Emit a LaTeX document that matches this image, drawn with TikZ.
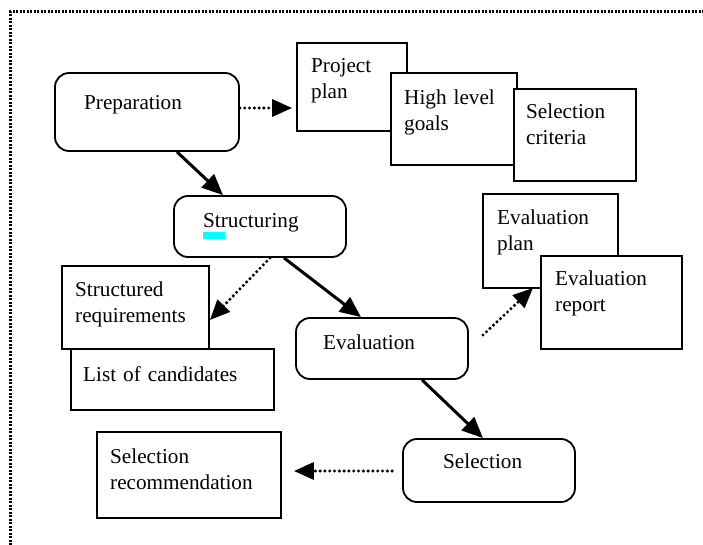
\documentclass[tikz,border=0pt]{standalone}
\usepackage{fontspec}
\setmainfont{Liberation Serif}
\usetikzlibrary{arrows.meta,calc}
\definecolor{hl}{RGB}{0,255,255}
\begin{document}
\begin{tikzpicture}[x=1pt,y=-1pt,
  rbox/.style={draw,line width=1.8pt,rounded corners=14pt,fill=white,inner sep=0pt},
  sbox/.style={draw,line width=1.8pt,fill=white,inner sep=0pt},
  lbl/.style={anchor=base west,inner sep=0pt,text width=200pt,align=left,
              font=\fontsize{21.2}{26}\selectfont},
  solidarrow/.style={line width=3pt,-{Triangle[length=21pt,width=18pt]}},
  dotarrow/.style={line width=3.4pt,line cap=round,dash pattern=on 0pt off 4.8pt,-{Triangle[length=20pt,width=17pt]}},
  frame/.style={line width=3pt,dash pattern=on 2pt off 1.5pt}]
\useasboundingbox (0,0) rectangle (703,545);
% frame
\draw[frame] (10,545) -- (10,12) -- (703,12);
% boxes
\node[rbox,minimum width=184pt,minimum height=78pt] (prep) at (147,112) {};
\node[sbox,minimum width=110pt,minimum height=88pt] (pp) at (352,87) {};
\node[sbox,minimum width=126pt,minimum height=92pt] (hlg) at (454,119) {};
\node[sbox,minimum width=122pt,minimum height=92pt] (sc) at (575,135) {};
\node[rbox,minimum width=172pt,minimum height=61pt] (struct) at (260,226.5) {};
\node[sbox,minimum width=135pt,minimum height=94pt] (ep) at (550.5,241) {};
\node[sbox,minimum width=141pt,minimum height=93pt] (er) at (611.5,302.5) {};
\node[sbox,minimum width=147pt,minimum height=83pt] (sr) at (135.5,307.5) {};
\node[sbox,minimum width=203pt,minimum height=61pt] (loc) at (172.5,379.5) {};
\node[rbox,minimum width=172pt,minimum height=61pt] (eval) at (382,348.5) {};
\node[rbox,minimum width=172pt,minimum height=63pt] (sel) at (489,470.5) {};
\node[sbox,minimum width=184pt,minimum height=86pt] (srec) at (189,475) {};
% highlight
\fill[hl] (203,232) rectangle (225,239);
% labels
\node[lbl] (tprep) at (84,110) {Preparation};
\node[lbl] (tpp) at (311,73) {Project\\plan};
\node[lbl] (thlg) at (404,105) {High level\\goals};
\node[lbl] (tsc) at (526,119) {Selection\\criteria};
\node[lbl] (tstruct) at (203,228) {Structuring};
\node[lbl] (tep) at (497,224) {Evaluation\\plan};
\node[lbl] (ter) at (555,285) {Evaluation\\report};
\node[lbl] (tsr) at (75,296) {Structured\\requirements};
\node[lbl] (tloc) at (83,381) {List of candidates};
\node[lbl] (teval) at (323,349) {Evaluation};
\node[lbl] (tsel) at (443,468) {Selection};
\node[lbl] (tsrec) at (110,463) {Selection\\recommendation};
% connectors
\draw[solidarrow] ([xshift=30pt]prep.south) -- ([xshift=-37pt]struct.north);
\draw[solidarrow] ([xshift=24pt]struct.south) -- ([xshift=-21pt]eval.north);
\draw[solidarrow] ([xshift=40pt]eval.south) -- ([xshift=-6pt]sel.north);
\draw[dotarrow,shorten >=4pt] (prep.east |- 0,108) -- (pp.west |- 0,108);
\draw[dotarrow] ([xshift=10pt]struct.south) -- (sr.east |- 0,320);
\coordinate (d3a) at (483,335);
\coordinate (d3b) at (533,288);
\draw[dotarrow] (d3a) -- (d3b);
\draw[dotarrow,shorten <=10pt] (sel.west |- 0,471) -- ($(srec.east |- 0,471)+(12,0)$);
\end{tikzpicture}
\end{document}
